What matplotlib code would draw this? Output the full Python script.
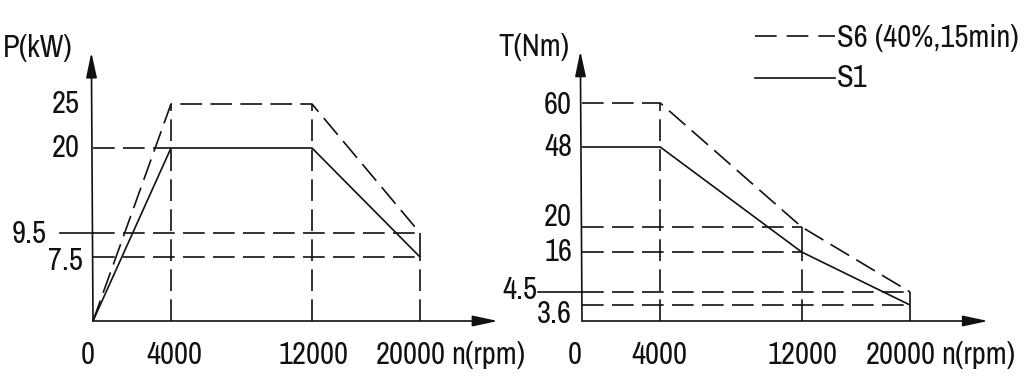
import numpy as np
import matplotlib
matplotlib.use("Agg")
import matplotlib.pyplot as plt
from matplotlib import font_manager
from matplotlib.font_manager import FontProperties
from matplotlib.lines import Line2D

# data
speed = [0, 4000, 12000, 20000]
power_s6 = [0, 25, 25, 9.5]
power_s1 = [0, 20, 20, 7.5]
torque_s6 = [60, 60, 20, 4.5]
torque_s1 = [48, 48, 16, 3.6]
speed_labels = ["0", "4000", "12000", "20000"]
legend_labels = ["S6 (40%,15min)", "S1"]

# the drawing is not to scale: pixel spacing for each marked value
X_PX = [0, 78, 219, 327]
P_VALS = [0, 7.5, 9.5, 20, 25]
P_PX = [0, 64, 88, 173, 217]
T_VALS = [0, 3.6, 4.5, 16, 20, 48, 60]
T_PX = [0, 16, 29, 69, 94, 174, 218]

# narrow lettering like the drafting font; fall back to a plain sans
narrow = [f for f in font_manager.fontManager.ttflist
          if ("Narrow" in f.name or "Condensed" in f.name
              or str(f.stretch) in ("condensed", "semi-condensed", "extra-condensed"))
          and f.style == "normal" and f.weight in (300, 400, "normal", "light", "regular")
          and "Serif" not in f.name and "Mono" not in f.name]
narrow.sort(key=lambda f: (0 if "Narrow" in f.name else 1, str(f.weight) != "400"))
if narrow:
    FP = FontProperties(fname=narrow[0].fname, size=22)
else:
    FP = FontProperties(family=["Liberation Sans", "DejaVu Sans"], size=16.5)

W, H = 1024, 378
fig = plt.figure(figsize=(W / 100, H / 100), dpi=100)
fig.patch.set_facecolor("white")

LW = 1.2
DASH = (0, (13, 5))
K = "#111111"


def box(x0, x1, ytop, ybot):
    return [x0 / W, 1 - ybot / H, (x1 - x0) / W, (ybot - ytop) / H]


def setup(ax, yvals, ypx):
    ax.set_xscale("function", functions=(lambda v: np.interp(v, speed, X_PX),
                                         lambda p: np.interp(p, X_PX, speed)))
    ax.set_yscale("function", functions=(lambda v: np.interp(v, yvals, ypx),
                                         lambda p: np.interp(p, ypx, yvals)))
    ax.set_xlim(0, speed[-1])
    ax.set_ylim(0, yvals[-1])
    ax.axis("off")
    arrow = dict(arrowstyle="-|>,head_length=1.4,head_width=0.3", lw=LW,
                 color=K, shrinkA=0, shrinkB=0, mutation_scale=11)
    ax.annotate("", xy=(1.238, 0), xytext=(0, 0), xycoords="axes fraction",
                arrowprops=arrow, annotation_clip=False)
    ax.annotate("", xy=(-0.005, 1.238), xytext=(0, 0), xycoords="axes fraction",
                arrowprops=arrow, annotation_clip=False)


def seg(ax, xs, ys, dashed=True):
    ax.plot(xs, ys, color=K, lw=LW, ls=DASH if dashed else "-",
            clip_on=False, solid_capstyle="butt")


def ylab(ax, text, y, dx, dy):
    ax.annotate(text, xy=(0, y), xytext=(dx, dy), textcoords="offset pixels",
                ha="right", va="center", fontproperties=FP, color=K,
                annotation_clip=False)


def xlabs(ax, offsets):
    for s, lab, dx in zip(speed, speed_labels, offsets):
        ax.annotate(lab, xy=(s, 0), xytext=(dx, -34), textcoords="offset pixels",
                    ha="center", va="center", fontproperties=FP, color=K,
                    annotation_clip=False)
    ax.annotate("n(rpm)", xy=(speed[-1], 0), xytext=(31, -34),
                textcoords="offset pixels", ha="left", va="center",
                fontproperties=FP, color=K, annotation_clip=False)


# ---- power chart
ax1 = fig.add_axes(box(93, 420, 104, 321))
setup(ax1, P_VALS, P_PX)
seg(ax1, speed, power_s6)
seg(ax1, speed, power_s1, dashed=False)
seg(ax1, [0, speed[1]], [power_s1[1]] * 2)
for v in (power_s6[-1], power_s1[-1]):
    seg(ax1, [0, speed[-1]], [v, v])
seg(ax1, [speed[1]] * 2, [0, power_s6[1]])
seg(ax1, [speed[2]] * 2, [0, power_s6[2]])
seg(ax1, [speed[3]] * 2, [0, power_s1[3]])
seg(ax1, [speed[3]] * 2, [power_s1[3], power_s6[3]], dashed=False)
ax1.plot([-0.101, 0], [power_s6[-1]] * 2, color=K, lw=LW, clip_on=False,
         transform=ax1.get_yaxis_transform())
ylab(ax1, "25", 25, -13, 0)
ylab(ax1, "20", 20, -13, 0)
ylab(ax1, "9.5", 9.5, -46, -1)
ylab(ax1, "7.5", 7.5, -10, -4)
xlabs(ax1, [-5, 3, 1, -9])
fig.text(3 / W, 1 - 48 / H, "P(kW)", ha="left", va="center", fontproperties=FP, color=K)

# ---- torque chart
ax2 = fig.add_axes(box(582, 910, 103, 321))
setup(ax2, T_VALS, T_PX)
seg(ax2, speed, torque_s6)
seg(ax2, speed, torque_s1, dashed=False)
for v in (torque_s6[2], torque_s1[2]):
    seg(ax2, [0, speed[2]], [v, v])
for v in (torque_s6[3], torque_s1[3]):
    seg(ax2, [0, speed[3]], [v, v])
seg(ax2, [speed[1]] * 2, [0, torque_s6[1]])
seg(ax2, [speed[2]] * 2, [0, torque_s1[2]])
seg(ax2, [speed[2]] * 2, [torque_s1[2], torque_s6[2]], dashed=False)
seg(ax2, [speed[3]] * 2, [0, torque_s6[3]], dashed=False)
ax2.plot([-0.134, 0], [torque_s6[-1]] * 2, color=K, lw=LW, clip_on=False,
         transform=ax2.get_yaxis_transform())
ylab(ax2, "60", 60, -10, -2)
ylab(ax2, "48", 48, -10, 0)
ylab(ax2, "20", 20, -10, 10)
ylab(ax2, "16", 16, -10, 0)
ylab(ax2, "4.5", 4.5, -45, 2)
ylab(ax2, "3.6", 3.6, -10, -9)
xlabs(ax2, [-7, -1, 1, -9])
fig.text(498 / W, 1 - 47 / H, "T(Nm)", ha="left", va="center", fontproperties=FP, color=K)

# ---- legend
for i, lab in enumerate(legend_labels):
    y = 1 - (36 + 42 * i) / H
    fig.add_artist(Line2D([755 / W, 835 / W], [y, y], color=K, lw=LW,
                          ls=(0, (13, 6)) if i == 0 else "-",
                          transform=fig.transFigure))
    fig.text(837 / W, 1 - (38 + 40 * i) / H, lab, ha="left", va="center",
             fontproperties=FP, color=K)

fig.savefig("out.png", dpi=100, facecolor="white")
